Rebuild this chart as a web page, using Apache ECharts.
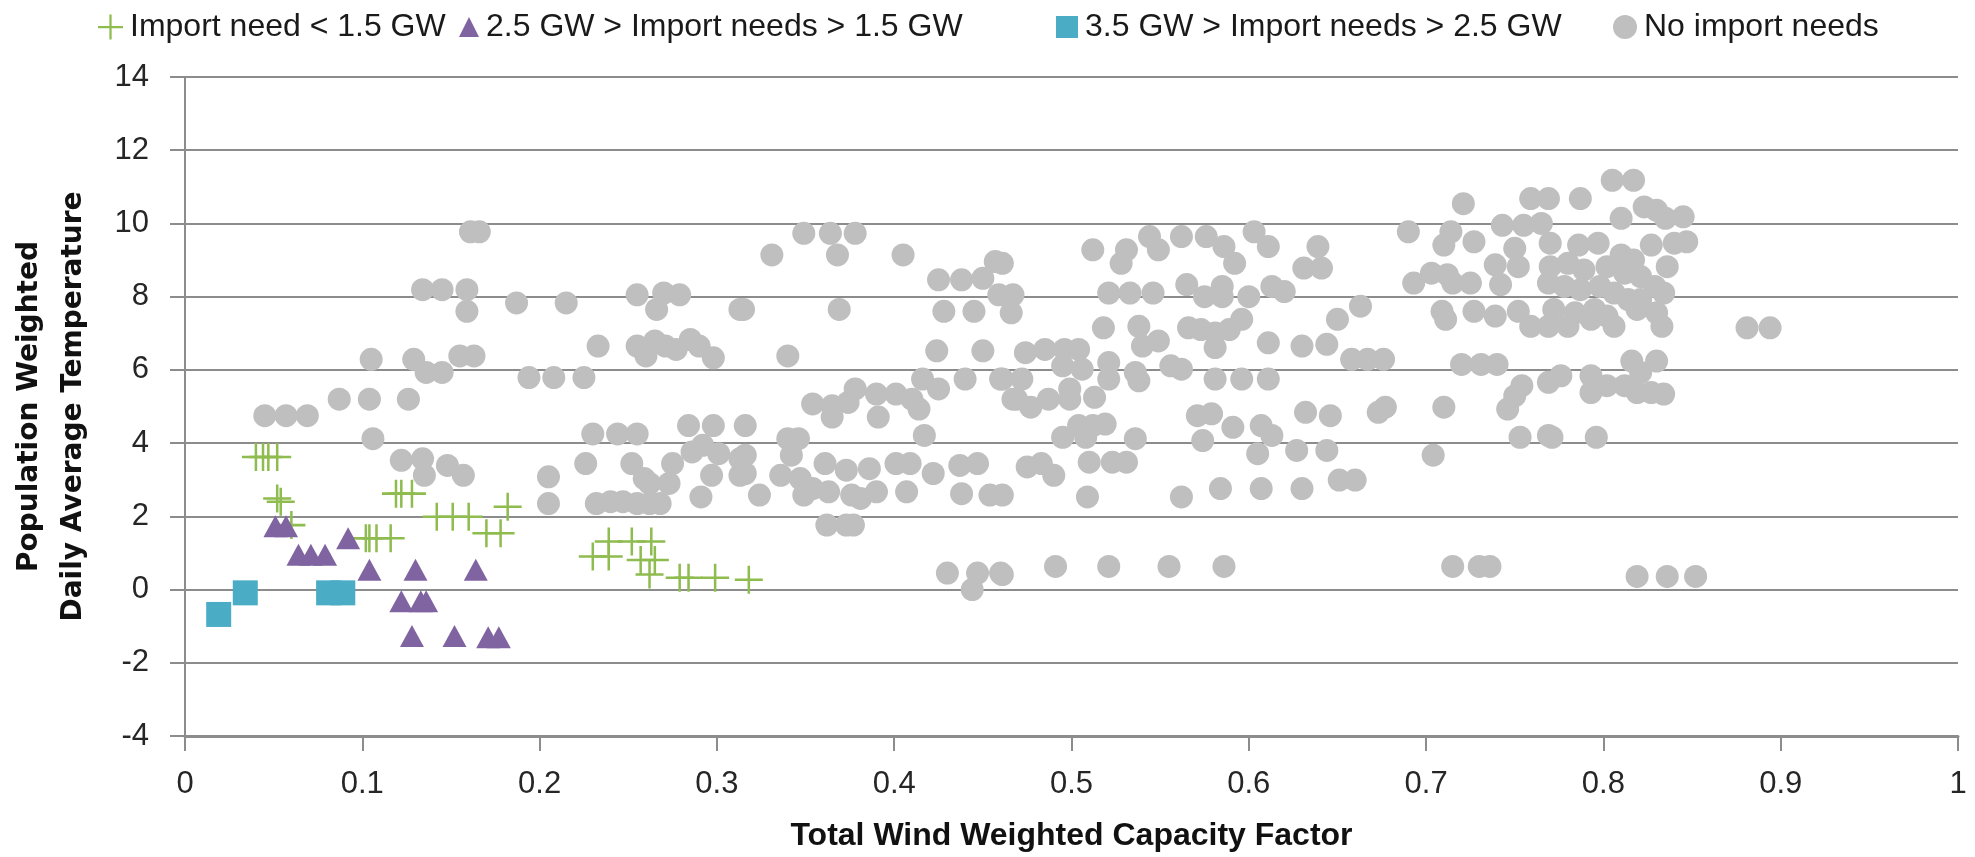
<!DOCTYPE html>
<html>
<head>
<meta charset="utf-8">
<script src="https://cdn.jsdelivr.net/npm/echarts@6/dist/echarts.min.js"></script>
<style>
  html, body { margin: 0; padding: 0; background: #fff; }
  #chart { width: 1975px; height: 857px; }
</style>
</head>
<body>
<div id="chart"></div>
<script>
// series names, as in the legend
const seriesNames = [
    'Import need < 1.5 GW',
    '2.5 GW > Import needs > 1.5 GW',
    '3.5 GW > Import needs > 2.5 GW',
    'No import needs'
];

// [capacity factor, temperature]
const importLow = [
    [0.040, 3.62], [0.044, 3.62], [0.047, 3.62], [0.052, 3.62], [0.052, 2.49], [0.054, 2.4],
    [0.060, 1.76], [0.102, 1.40], [0.104, 1.40], [0.108, 1.40], [0.116, 1.40], [0.119, 2.62],
    [0.122, 2.62], [0.128, 2.62], [0.142, 1.99], [0.151, 1.99], [0.160, 1.99], [0.182, 2.26],
    [0.170, 1.54], [0.178, 1.54], [0.230, 0.90], [0.239, 0.90], [0.239, 1.31], [0.252, 1.31],
    [0.257, 0.81], [0.263, 1.31], [0.265, 0.81], [0.262, 0.41], [0.279, 0.32], [0.284, 0.32],
    [0.299, 0.32], [0.318, 0.27]
];

const importMid = [
    [0.051, 1.73], [0.057, 1.73], [0.064, 0.95], [0.071, 0.95], [0.079, 0.95], [0.092, 1.40],
    [0.104, 0.54], [0.130, 0.54], [0.164, 0.54], [0.122, -0.32], [0.133, -0.32], [0.136, -0.32],
    [0.128, -1.27], [0.152, -1.27], [0.171, -1.3], [0.177, -1.3]
];

const importHigh = [
    [0.019, -0.68], [0.034, -0.09], [0.081, -0.09], [0.089, -0.09]
];

const noImport = [
    [0.161, 9.77], [0.134, 8.19], [0.145, 8.19], [0.159, 8.19], [0.159, 7.6], [0.105, 6.29],
    [0.129, 6.29], [0.136, 5.93], [0.145, 5.93], [0.155, 6.38], [0.163, 6.38], [0.045, 4.75],
    [0.057, 4.75], [0.069, 4.75], [0.087, 5.2], [0.104, 5.2], [0.126, 5.2], [0.106, 4.12],
    [0.122, 3.53], [0.134, 3.57], [0.135, 3.12], [0.148, 3.39], [0.157, 3.12],
    [0.166, 9.77], [0.187, 7.83], [0.215, 7.83], [0.255, 8.05], [0.270, 8.1], [0.279, 8.05],
    [0.266, 7.65], [0.313, 7.65], [0.233, 6.65], [0.255, 6.65], [0.260, 6.38], [0.265, 6.79],
    [0.271, 6.65], [0.277, 6.56], [0.285, 6.83], [0.290, 6.65], [0.298, 6.33], [0.194, 5.79],
    [0.208, 5.79], [0.225, 5.79], [0.230, 4.25], [0.244, 4.25], [0.255, 4.25], [0.284, 4.48],
    [0.298, 4.48], [0.205, 3.08], [0.205, 2.35], [0.226, 3.44], [0.252, 3.44], [0.259, 3.03],
    [0.262, 2.9], [0.273, 2.9], [0.275, 3.44], [0.286, 3.76], [0.292, 3.94], [0.301, 3.71],
    [0.297, 3.12], [0.232, 2.35], [0.240, 2.4], [0.247, 2.4], [0.255, 2.35], [0.262, 2.35],
    [0.268, 2.35], [0.291, 2.53], [0.313, 3.12], [0.313, 3.57],
    [0.349, 9.73], [0.364, 9.73], [0.378, 9.73], [0.331, 9.14], [0.368, 9.14], [0.405, 9.14],
    [0.425, 8.46], [0.438, 8.46], [0.450, 8.5], [0.457, 8.96], [0.459, 8.05], [0.465, 8.0],
    [0.315, 7.65], [0.369, 7.65], [0.428, 7.6], [0.445, 7.6], [0.340, 6.38], [0.424, 6.52],
    [0.450, 6.52], [0.416, 5.75], [0.425, 5.48], [0.440, 5.75], [0.460, 5.75], [0.467, 5.2],
    [0.354, 5.07], [0.365, 5.02], [0.365, 4.71], [0.374, 5.11], [0.378, 5.48], [0.390, 5.34],
    [0.391, 4.71], [0.401, 5.34], [0.410, 5.2], [0.414, 4.93], [0.417, 4.21], [0.316, 4.48],
    [0.340, 4.12], [0.346, 4.12], [0.316, 3.67], [0.316, 3.17], [0.324, 2.58], [0.336, 3.12],
    [0.342, 3.67], [0.347, 3.03], [0.349, 2.58], [0.354, 2.76], [0.361, 3.44], [0.363, 2.67],
    [0.373, 3.26], [0.376, 2.58], [0.381, 2.49], [0.386, 3.30], [0.390, 2.67], [0.401, 3.44],
    [0.409, 3.44], [0.407, 2.67], [0.422, 3.17], [0.437, 3.39], [0.438, 2.62], [0.447, 3.44],
    [0.454, 2.58], [0.362, 1.76], [0.373, 1.76], [0.377, 1.76], [0.430, 0.45], [0.447, 0.45],
    [0.444, 0.0], [0.460, 0.45],
    [0.461, 8.91], [0.512, 9.28], [0.528, 8.91], [0.531, 9.28], [0.544, 9.64], [0.549, 9.28],
    [0.562, 9.64], [0.576, 9.64], [0.586, 9.37], [0.592, 8.91], [0.603, 9.77], [0.611, 9.37],
    [0.467, 8.05], [0.466, 7.56], [0.521, 8.1], [0.533, 8.1], [0.546, 8.1], [0.565, 8.33],
    [0.575, 8.0], [0.585, 8.28], [0.585, 8.0], [0.600, 8.0], [0.613, 8.28], [0.518, 7.15],
    [0.538, 7.19], [0.540, 6.65], [0.549, 6.79], [0.566, 7.15], [0.573, 7.10], [0.581, 7.01],
    [0.589, 7.10], [0.596, 7.38], [0.581, 6.61], [0.611, 6.74], [0.474, 6.47], [0.485, 6.56],
    [0.496, 6.56], [0.504, 6.56], [0.461, 5.75], [0.472, 5.75], [0.495, 6.11], [0.506, 6.02],
    [0.499, 5.48], [0.521, 6.2], [0.521, 5.75], [0.536, 5.93], [0.538, 5.7], [0.556, 6.11],
    [0.562, 6.02], [0.581, 5.75], [0.596, 5.75], [0.611, 5.75], [0.469, 5.2], [0.477, 4.98],
    [0.487, 5.2], [0.499, 5.2], [0.513, 5.25], [0.495, 4.16], [0.504, 4.48], [0.512, 4.48],
    [0.519, 4.52], [0.508, 4.16], [0.536, 4.12], [0.571, 4.75], [0.579, 4.80], [0.574, 4.07],
    [0.591, 4.43], [0.607, 4.48], [0.613, 4.21], [0.605, 3.71], [0.475, 3.35], [0.483, 3.44],
    [0.490, 3.12], [0.510, 3.48], [0.523, 3.48], [0.531, 3.48], [0.461, 2.58], [0.509, 2.53],
    [0.562, 2.53], [0.584, 2.76], [0.607, 2.76], [0.461, 0.41], [0.491, 0.63], [0.521, 0.63],
    [0.555, 0.63], [0.586, 0.63],
    [0.721, 10.54], [0.759, 10.68], [0.769, 10.68], [0.690, 9.77], [0.714, 9.77], [0.710, 9.41],
    [0.727, 9.5], [0.743, 9.95], [0.755, 9.95], [0.639, 9.37], [0.631, 8.78], [0.641, 8.78],
    [0.620, 8.14], [0.693, 8.37], [0.703, 8.64], [0.712, 8.6], [0.715, 8.37], [0.725, 8.37],
    [0.739, 8.87], [0.742, 8.33], [0.752, 8.82], [0.750, 9.32], [0.769, 8.37], [0.663, 7.74],
    [0.650, 7.38], [0.709, 7.6], [0.711, 7.38], [0.727, 7.6], [0.739, 7.47], [0.752, 7.6],
    [0.759, 7.19], [0.630, 6.65], [0.644, 6.7], [0.658, 6.29], [0.667, 6.29], [0.676, 6.29],
    [0.720, 6.15], [0.731, 6.15], [0.740, 6.15], [0.754, 5.57], [0.750, 5.29], [0.746, 4.93],
    [0.769, 5.66], [0.632, 4.84], [0.646, 4.75], [0.673, 4.84], [0.677, 4.98], [0.710, 4.98],
    [0.627, 3.80], [0.644, 3.80], [0.704, 3.67], [0.753, 4.16], [0.769, 4.21], [0.630, 2.76],
    [0.651, 2.99], [0.660, 2.99], [0.715, 0.63], [0.730, 0.63], [0.736, 0.63],
    [0.805, 11.18], [0.817, 11.18], [0.787, 10.68], [0.765, 10.0], [0.810, 10.14], [0.823, 10.45],
    [0.830, 10.36], [0.835, 10.14], [0.845, 10.18], [0.847, 9.5], [0.840, 9.46], [0.827, 9.41],
    [0.836, 8.82], [0.770, 9.46], [0.786, 9.41], [0.797, 9.46], [0.810, 9.14], [0.817, 9.0],
    [0.770, 8.82], [0.780, 8.91], [0.789, 8.73], [0.802, 8.82], [0.812, 8.64], [0.821, 8.55],
    [0.829, 8.28], [0.778, 8.28], [0.787, 8.19], [0.798, 8.28], [0.806, 8.1], [0.814, 7.92],
    [0.821, 7.92], [0.834, 8.1], [0.772, 7.65], [0.784, 7.56], [0.795, 7.65], [0.802, 7.47],
    [0.819, 7.65], [0.830, 7.56], [0.769, 7.19], [0.780, 7.19], [0.793, 7.38], [0.806, 7.19],
    [0.833, 7.19], [0.881, 7.15], [0.894, 7.15], [0.816, 6.24], [0.830, 6.24], [0.776, 5.84],
    [0.793, 5.84], [0.793, 5.38], [0.802, 5.57], [0.812, 5.57], [0.819, 5.38], [0.821, 5.93],
    [0.827, 5.38], [0.834, 5.34], [0.771, 4.16], [0.796, 4.16], [0.819, 0.36], [0.836, 0.36],
    [0.852, 0.36]
];

const plusPath = 'path://M4.55,0 H5.45 V4.55 H10 V5.45 H5.45 V10 H4.55 V5.45 H0 V4.55 H4.55 Z';
const textFont = 'Liberation Sans';
const axisGray = '#8c8c8c';

function legendAt(left, name, icon, size) {
    return {
        top: 6,
        left: left,
        itemWidth: size,
        itemHeight: size,
        itemGap: 0,
        data: [{ name: name, icon: icon }],
        textStyle: { fontFamily: textFont, fontSize: 32, color: '#1a1a1a', padding: [0, 0, 0, 2] },
        selectedMode: false
    };
}

var myChart = echarts.init(document.getElementById('chart'));

option = {
    animation: false,
    backgroundColor: '#ffffff',
    legend: [
        legendAt(93, seriesNames[0], plusPath, 25),
        legendAt(454, seriesNames[1], 'triangle', 20),
        legendAt(1051, seriesNames[2], 'rect', 22),
        legendAt(1608, seriesNames[3], 'circle', 24)
    ],
    grid: {
        left: 181,
        right: 17,
        top: 77,
        bottom: 119
    },
    xAxis: {
        type: 'value',
        min: 0,
        max: 1,
        interval: 0.1,
        name: 'Total Wind Weighted Capacity Factor',
        nameLocation: 'middle',
        nameGap: 84,
        nameTextStyle: { fontFamily: textFont, fontWeight: 'bold', fontSize: 32, color: '#111' },
        axisLine: { onZero: false, lineStyle: { color: axisGray, width: 3 } },
        axisTick: { length: 15, lineStyle: { color: axisGray, width: 2 } },
        axisLabel: { fontFamily: textFont, fontSize: 31, color: '#262626', margin: 33 },
        splitLine: { show: false }
    },
    yAxis: {
        type: 'value',
        min: -4,
        max: 14,
        interval: 2,
        name: 'Population Weighted\nDaily Average Temperature',
        nameLocation: 'middle',
        nameRotate: 90,
        nameGap: 89,
        nameTextStyle: { fontFamily: 'DejaVu Sans', fontWeight: 'bold', fontSize: 28, lineHeight: 44, color: '#111' },
        axisLine: { show: true, onZero: false, lineStyle: { color: axisGray, width: 2 } },
        axisTick: { show: true, length: 15, lineStyle: { color: axisGray, width: 2 } },
        axisLabel: { fontFamily: textFont, fontSize: 31, color: '#262626', margin: 36 },
        splitLine: { show: true, lineStyle: { color: axisGray, width: 2 } }
    },
    series: [
        {
            name: seriesNames[0],
            type: 'scatter',
            symbol: plusPath,
            symbolSize: 28,
            itemStyle: { color: '#8fbc4f', opacity: 1 },
            data: importLow
        },
        {
            name: seriesNames[1],
            type: 'scatter',
            symbol: 'triangle',
            symbolSize: [24, 22],
            itemStyle: { color: '#8064a2', opacity: 1 },
            data: importMid
        },
        {
            name: seriesNames[2],
            type: 'scatter',
            symbol: 'rect',
            symbolSize: 25,
            itemStyle: { color: '#4bacc6', opacity: 1 },
            data: importHigh
        },
        {
            name: seriesNames[3],
            type: 'scatter',
            symbol: 'circle',
            symbolSize: 23,
            itemStyle: { color: '#bfbfbf', opacity: 1 },
            data: noImport
        }
    ]
};
myChart.setOption(option);
</script>
</body>
</html>
